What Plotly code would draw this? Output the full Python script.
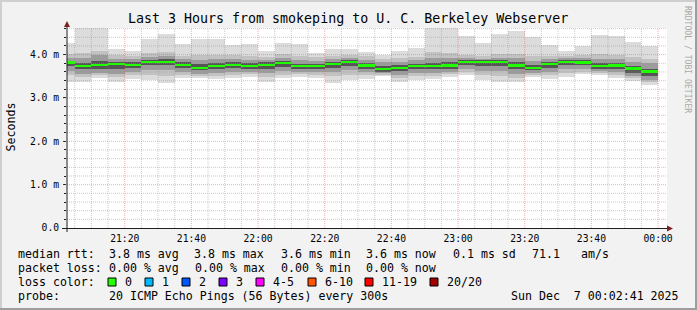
import plotly.graph_objects as go
import pandas as pd

# ---------------- data ----------------
times = ["2025-12-06 21:05", "2025-12-06 21:10", "2025-12-06 21:15", "2025-12-06 21:20",
         "2025-12-06 21:25", "2025-12-06 21:30", "2025-12-06 21:35", "2025-12-06 21:40",
         "2025-12-06 21:45", "2025-12-06 21:50", "2025-12-06 21:55", "2025-12-06 22:00",
         "2025-12-06 22:05", "2025-12-06 22:10", "2025-12-06 22:15", "2025-12-06 22:20",
         "2025-12-06 22:25", "2025-12-06 22:30", "2025-12-06 22:35", "2025-12-06 22:40",
         "2025-12-06 22:45", "2025-12-06 22:50", "2025-12-06 22:55", "2025-12-06 23:00",
         "2025-12-06 23:05", "2025-12-06 23:10", "2025-12-06 23:15", "2025-12-06 23:20",
         "2025-12-06 23:25", "2025-12-06 23:30", "2025-12-06 23:35", "2025-12-06 23:40",
         "2025-12-06 23:45", "2025-12-06 23:50", "2025-12-06 23:55", "2025-12-07 00:00"]

median = [3.82, 3.73, 3.77, 3.79, 3.77, 3.84, 3.84, 3.77, 3.70, 3.73, 3.77, 3.74,
          3.77, 3.80, 3.73, 3.73, 3.78, 3.84, 3.75, 3.66, 3.70, 3.73, 3.73, 3.75,
          3.83, 3.83, 3.83, 3.75, 3.70, 3.79, 3.84, 3.82, 3.74, 3.75, 3.68, 3.61]
smoke_max = [4.28, 4.62, 4.62, 4.14, 4.08, 4.35, 4.47, 4.25, 4.37, 4.36, 4.22, 4.25,
             4.08, 4.28, 4.25, 4.04, 4.14, 4.13, 4.06, 4.00, 4.09, 4.15, 4.62, 4.62,
             4.42, 4.28, 4.48, 4.55, 4.40, 4.23, 4.08, 4.20, 4.46, 4.44, 4.30, 4.19]
hi2 = [4.02, 4.03, 4.08, 3.99, 3.97, 4.04, 4.06, 3.98, 4.00, 3.99, 4.00, 3.96,
       3.95, 4.02, 3.97, 3.94, 3.98, 4.00, 3.96, 3.90, 3.92, 3.95, 4.05, 4.04,
       4.00, 3.98, 4.02, 4.02, 3.96, 3.98, 3.98, 4.00, 4.02, 4.00, 3.94, 3.90]
hi3 = [3.92, 3.93, 3.99, 3.90, 3.89, 3.95, 3.96, 3.90, 3.88, 3.90, 3.90, 3.88,
       3.88, 3.93, 3.88, 3.86, 3.90, 3.93, 3.88, 3.82, 3.84, 3.87, 3.93, 3.92,
       3.92, 3.91, 3.93, 3.92, 3.86, 3.90, 3.92, 3.92, 3.90, 3.89, 3.84, 3.80]
hi4 = [3.86, 3.80, 3.86, 3.84, 3.82, 3.88, 3.89, 3.82, 3.79, 3.80, 3.83, 3.80,
       3.82, 3.85, 3.79, 3.79, 3.83, 3.88, 3.81, 3.73, 3.76, 3.79, 3.81, 3.82,
       3.87, 3.87, 3.87, 3.82, 3.77, 3.84, 3.88, 3.87, 3.80, 3.80, 3.74, 3.68]
lo4 = [3.74, 3.66, 3.68, 3.66, 3.70, 3.76, 3.76, 3.70, 3.64, 3.66, 3.70, 3.68,
       3.68, 3.72, 3.67, 3.67, 3.70, 3.74, 3.68, 3.61, 3.62, 3.66, 3.66, 3.68,
       3.76, 3.74, 3.74, 3.66, 3.64, 3.70, 3.76, 3.75, 3.68, 3.68, 3.58, 3.50]
lo3 = [3.62, 3.56, 3.58, 3.56, 3.60, 3.64, 3.64, 3.60, 3.56, 3.57, 3.60, 3.60,
       3.58, 3.62, 3.60, 3.59, 3.60, 3.64, 3.59, 3.57, 3.54, 3.57, 3.58, 3.61,
       3.67, 3.62, 3.62, 3.56, 3.58, 3.60, 3.66, 3.66, 3.62, 3.60, 3.50, 3.42]
lo2 = [3.52, 3.48, 3.52, 3.48, 3.52, 3.54, 3.50, 3.52, 3.50, 3.50, 3.53, 3.55,
       3.48, 3.54, 3.55, 3.53, 3.50, 3.54, 3.52, 3.54, 3.47, 3.50, 3.51, 3.55,
       3.60, 3.52, 3.50, 3.47, 3.54, 3.52, 3.58, 3.60, 3.57, 3.54, 3.45, 3.36]
smoke_min = [3.38, 3.37, 3.45, 3.38, 3.44, 3.41, 3.34, 3.45, 3.45, 3.44, 3.45, 3.49,
             3.36, 3.45, 3.49, 3.47, 3.34, 3.42, 3.44, 3.51, 3.38, 3.41, 3.44, 3.49,
             3.53, 3.41, 3.38, 3.36, 3.49, 3.44, 3.49, 3.55, 3.53, 3.47, 3.39, 3.30]

tick_times = ["2025-12-06 21:20", "2025-12-06 21:40", "2025-12-06 22:00", "2025-12-06 22:20",
              "2025-12-06 22:40", "2025-12-06 23:00", "2025-12-06 23:20", "2025-12-06 23:40",
              "2025-12-07 00:00"]
tick_labels = ["21:20", "21:40", "22:00", "22:20", "22:40", "23:00", "23:20", "23:40", "00:00"]
y_ticks = [0, 1, 2, 3, 4]
y_tick_labels = ["0.0", "1.0 m", "2.0 m", "3.0 m", "4.0 m"]

title = "Last 3 Hours from smokeping to U. C. Berkeley Webserver"
rtt_row = ["median rtt:", "3.8 ms avg", "3.8 ms max", "3.6 ms min", "3.6 ms now",
           "0.1 ms sd", "71.1", "am/s"]
loss_row = ["packet loss:", "0.00 % avg", "0.00 % max", "0.00 % min", "0.00 % now"]
loss_labels = ["0", "1", "2", "3", "4-5", "6-10", "11-19", "20/20"]
loss_colors = ["#26ff00", "#00b8ff", "#0059ff", "#7e00ff", "#ff00ff", "#ff5500", "#ff0000", "#a00000"]
probe_text = "20 ICMP Echo Pings (56 Bytes) every 300s"
date_text = "Sun Dec  7 00:02:41 2025"

# ---------------- geometry helpers ----------------
W, H = 697, 310
L, R, T, B = 67, 667, 28, 228
FONT = "DejaVu Sans Mono"
STEP_MS = 300000


def px(xp):
    return (xp - L) / (R - L)


def py(yp):
    return (B - yp) / (B - T)


fig = go.Figure()

layers = [(smoke_min, smoke_max, "#dcdcdc"),
          (lo2, hi2, "#c2c2c2"),
          (lo3, hi3, "#9c9c9c"),
          (lo4, hi4, "#555555")]
for lo, hi, col in layers:
    fig.add_bar(x=times, base=lo, y=[h - l for h, l in zip(hi, lo)],
                width=STEP_MS, offset=-STEP_MS,
                marker=dict(color=col, line=dict(width=0)), hoverinfo="skip")

MED_H = 0.05
fig.add_bar(x=times, base=[m - MED_H / 2 for m in median], y=[MED_H] * len(median),
            width=STEP_MS, offset=-STEP_MS,
            marker=dict(color="#20ff00", line=dict(width=0)), hoverinfo="skip")

shapes = []
MINOR_C = "rgba(150,150,150,0.5)"
MAJOR_C = "rgba(222,79,79,0.45)"
# grid drawn over the data (like rrdtool)
x0, x1 = "2025-12-06 21:02:41", "2025-12-07 00:02:41"
for t in pd.date_range("2025-12-06 21:05", "2025-12-07 00:00", freq="5min"):
    major = (t.minute % 20 == 0)
    shapes.append(dict(type="line", xref="x", yref="paper", x0=t, x1=t, y0=0, y1=1,
                       layer="above",
                       line=dict(width=1, dash="1px,1px", color=MAJOR_C if major else MINOR_C)))
for i in range(1, 24):
    v = i * 0.2
    major = (i % 5 == 0)
    shapes.append(dict(type="line", xref="paper", yref="y", x0=px(63) if major else 0, x1=1,
                       y0=v, y1=v, layer="above",
                       line=dict(width=1, dash="1px,1px", color=MAJOR_C if major else MINOR_C)))

# axes with arrows
AX = "rgb(31,31,31)"
ARW = "rgb(128,31,31)"
shapes.append(dict(type="line", xref="paper", yref="paper", x0=px(62), x1=px(670),
                   y0=py(228.5), y1=py(228.5), line=dict(color=AX, width=1), layer="above"))
shapes.append(dict(type="line", xref="paper", yref="paper", x0=px(67), x1=px(67),
                   y0=py(232), y1=py(24), line=dict(color=AX, width=1), layer="above"))
shapes.append(dict(type="path", xref="paper", yref="paper", layer="above",
                   path=f"M {px(667)},{py(225.5)} L {px(673)},{py(228.5)} L {px(667)},{py(231.5)} Z",
                   fillcolor=ARW, line=dict(width=0)))
shapes.append(dict(type="path", xref="paper", yref="paper", layer="above",
                   path=f"M {px(64)},{py(27)} L {px(67)},{py(21)} L {px(70)},{py(27)} Z",
                   fillcolor=ARW, line=dict(width=0)))

# 3D frame
SHA, SHB = "#cfcfcf", "#9e9e9e"
shapes.append(dict(type="rect", xref="paper", yref="paper", x0=px(0), x1=px(697), y0=py(0), y1=py(2),
                   fillcolor=SHA, line=dict(width=0)))
shapes.append(dict(type="rect", xref="paper", yref="paper", x0=px(0), x1=px(2), y0=py(0), y1=py(310),
                   fillcolor=SHA, line=dict(width=0)))
shapes.append(dict(type="rect", xref="paper", yref="paper", x0=px(0), x1=px(697), y0=py(308), y1=py(310),
                   fillcolor=SHB, line=dict(width=0)))
shapes.append(dict(type="rect", xref="paper", yref="paper", x0=px(695), x1=px(697), y0=py(0), y1=py(310),
                   fillcolor=SHB, line=dict(width=0)))

annotations = []


def txt(s, xp, yp, size=11.6, anchor="left", color="#000000", angle=0):
    annotations.append(dict(text=s, x=px(xp), y=py(yp), xref="paper", yref="paper",
                            xanchor=anchor, yanchor="middle", showarrow=False, textangle=angle,
                            font=dict(family=FONT, size=size, color=color)))


txt(title, 348, 18.5, size=13.3, anchor="center")
txt("Seconds", 10, 127.5, angle=-90, anchor="center")
txt("RRDTOOL / TOBI OETIKER", 688, 59, size=8.1, anchor="center", color="#a9a9a9", angle=90)

row_y = [254, 268, 282, 296]
rtt_x = [16, 107, 192, 279, 364, 451, 530, 579]
for s, xp in zip(rtt_row, rtt_x):
    txt(s.replace(" ", "\u00a0"), xp, row_y[0])
loss_x = [16, 107, 193, 279, 364]
for s, xp in zip(loss_row, loss_x):
    txt(s.replace(" ", "\u00a0"), xp, row_y[1])
txt("loss\u00a0color:", 16, row_y[2])
box_x = [108, 145, 182, 219, 256, 308, 365, 430]
for lab, col, bx in zip(loss_labels, loss_colors, box_x):
    shapes.append(dict(type="rect", xref="paper", yref="paper", x0=px(bx), x1=px(bx + 8),
                       y0=py(row_y[2] - 4), y1=py(row_y[2] + 4), fillcolor=col,
                       line=dict(color="#000000", width=1)))
    txt(lab, bx + 15, row_y[2])
txt("probe:", 16, row_y[3])
txt(probe_text.replace(" ", "\u00a0"), 107, row_y[3])
txt(date_text.replace(" ", "\u00a0"), 681, row_y[3], anchor="right")

fig.update_layout(
    width=W, height=H,
    margin=dict(l=L, r=W - R, t=T, b=H - B),
    paper_bgcolor="#f2f2f2", plot_bgcolor="#ffffff",
    barmode="overlay", bargap=0, showlegend=False,
    font=dict(family=FONT, color="#000000"),
    shapes=shapes, annotations=annotations,
    xaxis=dict(type="date", range=[x0, x1], tickvals=tick_times, ticktext=tick_labels,
               showgrid=False, zeroline=False, showline=False, ticks="",
               tickfont=dict(family=FONT, size=9.7, color="#000000"), ticklabelstandoff=3),
    yaxis=dict(range=[0, 4.615], tickvals=y_ticks, ticktext=y_tick_labels,
               showgrid=False, zeroline=False, showline=False,
               ticks="outside", ticklen=3, tickcolor=AX, tickwidth=1,
               minor=dict(ticks="outside", ticklen=2, dtick=0.2, tickcolor=AX, showgrid=False),
               tickfont=dict(family=FONT, size=9.7, color="#000000"), ticklabelstandoff=2),
)

fig.write_html("out.html")
